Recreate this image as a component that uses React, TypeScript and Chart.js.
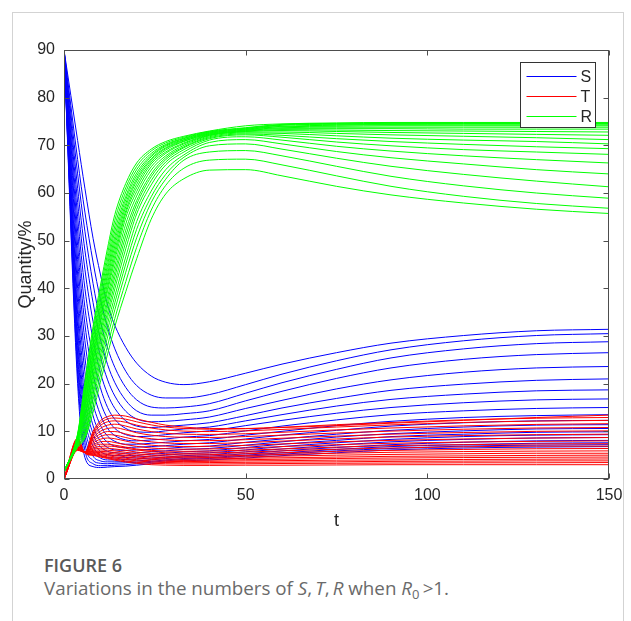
import React, { useEffect, useRef } from "react";
import { Chart, registerables } from "chart.js";

Chart.register(...registerables);

// Time grid shared by every curve
const T_GRID = [0, 3.75, 5.75, 8, 10, 12, 14, 17, 20, 24, 28, 33, 40, 50, 60, 75, 90, 110, 130, 150];

const X_TICKS = [0, 50, 100, 150];
const Y_TICKS = [0, 10, 20, 30, 40, 50, 60, 70, 80, 90];
const LEGEND_LABELS = ["S", "T", "R"];
const X_TITLE = "t";
const Y_TITLE = "Quantity/%";

// S curves (blue)
const S_CURVES = [
  [90, 20, 4.5, 2.6, 2.4, 2.5, 2.6, 2.7, 2.9, 3.2, 3.5, 3.8, 4.0, 4.4, 4.9, 5.5, 6.1, 6.5, 6.7, 6.8],
  [90, 22, 6.0, 3.2, 2.8, 2.8, 2.9, 3.0, 3.2, 3.5, 3.8, 4.1, 4.3, 4.8, 5.2, 5.9, 6.4, 6.9, 7.1, 7.2],
  [90, 24, 7.6, 3.9, 3.3, 3.2, 3.3, 3.4, 3.5, 3.7, 4.0, 4.3, 4.5, 5.0, 5.5, 6.2, 6.8, 7.2, 7.5, 7.6],
  [90, 26, 9.3, 4.8, 3.8, 3.6, 3.6, 3.7, 3.8, 4.0, 4.3, 4.6, 4.8, 5.3, 5.9, 6.6, 7.2, 7.7, 8.0, 8.1],
  [90, 28, 11, 5.8, 4.4, 4.0, 4.0, 4.1, 4.2, 4.4, 4.6, 4.9, 5.1, 5.7, 6.3, 7.1, 7.8, 8.3, 8.6, 8.7],
  [90, 30, 12.8, 6.9, 5.0, 4.5, 4.4, 4.5, 4.6, 4.8, 5.0, 5.3, 5.5, 6.1, 6.8, 7.6, 8.3, 8.9, 9.2, 9.3],
  [90, 32, 14.8, 8.1, 5.8, 5.1, 4.9, 4.9, 5.0, 5.2, 5.4, 5.7, 5.9, 6.6, 7.3, 8.1, 8.9, 9.4, 9.8, 9.9],
  [90, 34.5, 17, 9.5, 6.8, 5.8, 5.5, 5.4, 5.5, 5.7, 5.9, 6.2, 6.4, 7.1, 7.8, 8.8, 9.5, 10.1, 10.5, 10.6],
  [90, 37, 19.5, 11.2, 8.0, 6.6, 6.1, 6.0, 6.1, 6.2, 6.4, 6.7, 6.9, 7.7, 8.4, 9.4, 10.2, 10.9, 11.3, 11.4],
  [90, 40, 22.5, 13.3, 9.5, 7.7, 6.9, 6.6, 6.7, 6.8, 7.0, 7.3, 7.6, 8.4, 9.2, 10.2, 11.1, 11.8, 12.2, 12.3],
  [90, 43, 25.5, 15.8, 11.3, 9.0, 7.9, 7.3, 7.3, 7.5, 7.7, 8.0, 8.3, 9.2, 10.0, 11.2, 12.1, 12.9, 13.3, 13.5],
  [90, 46, 29, 18.7, 13.5, 10.6, 9.1, 8.2, 8.0, 8.2, 8.4, 8.8, 9.1, 10.1, 11.1, 12.4, 13.5, 14.3, 14.8, 15.0],
  [90, 49, 32.5, 22, 16.2, 12.6, 10.6, 9.3, 8.9, 9.0, 9.3, 9.7, 10.1, 11.2, 12.3, 13.8, 15.0, 16.0, 16.6, 16.8],
  [90, 52, 36, 25.5, 19.2, 15.0, 12.5, 10.6, 9.9, 9.8, 10.1, 10.5, 10.9, 12.2, 13.5, 15.3, 16.7, 17.8, 18.5, 18.7],
  [90, 55, 40, 29.2, 22.4, 17.8, 14.8, 12.2, 11.1, 10.8, 11.0, 11.3, 11.8, 13.3, 14.9, 16.9, 18.6, 19.9, 20.7, 21.0],
  [90, 58, 44, 33, 25.8, 20.8, 17.4, 14.2, 12.6, 12.0, 12.1, 12.4, 13.0, 14.8, 16.5, 18.9, 20.8, 22.4, 23.3, 23.6],
  [90, 61, 48, 37, 29.4, 24, 20.2, 16.5, 14.3, 13.4, 13.4, 13.7, 14.3, 16.4, 18.4, 21.1, 23.3, 25.1, 26.1, 26.5],
  [90, 64, 52, 41, 33.2, 27.5, 23.4, 19.2, 16.6, 15.1, 14.9, 15.1, 15.8, 18.0, 20.2, 23.0, 25.4, 27.3, 28.4, 28.8],
  [90, 67, 56, 45.5, 37.8, 31.8, 27.3, 22.6, 19.6, 17.6, 17.0, 17.0, 17.7, 19.8, 22.0, 24.8, 27.1, 29.0, 30.1, 30.5],
  [90, 71, 61, 50.5, 43, 36.5, 32.2, 27.6, 24.3, 21.6, 20.3, 19.8, 20.4, 22.2, 24.1, 26.5, 28.5, 30.1, 31.1, 31.4],
];

// T curves (red)
const T_CURVES = [
  [0, 8.6, 5.4, 4.95, 4.6, 4.3, 3.95, 3.55, 3.25, 3.0, 2.9, 2.85, 2.85, 2.9, 2.9, 2.95, 3.0, 3.0, 3.0, 3.0],
  [0, 8.4, 5.45, 5.05, 4.75, 4.45, 4.15, 3.8, 3.5, 3.3, 3.2, 3.15, 3.15, 3.2, 3.25, 3.3, 3.35, 3.4, 3.4, 3.45],
  [0, 8.2, 5.5, 5.2, 4.9, 4.65, 4.4, 4.1, 3.8, 3.55, 3.45, 3.4, 3.45, 3.5, 3.55, 3.6, 3.7, 3.75, 3.8, 3.8],
  [0, 8.0, 5.5, 5.3, 5.1, 4.9, 4.65, 4.35, 4.05, 3.8, 3.7, 3.65, 3.7, 3.8, 3.85, 3.95, 4.0, 4.1, 4.15, 4.2],
  [0, 7.8, 5.55, 5.45, 5.3, 5.15, 4.95, 4.65, 4.35, 4.1, 3.95, 3.9, 3.95, 4.05, 4.15, 4.3, 4.4, 4.5, 4.55, 4.6],
  [0, 7.6, 5.6, 5.6, 5.55, 5.4, 5.25, 4.95, 4.65, 4.35, 4.2, 4.15, 4.2, 4.35, 4.45, 4.6, 4.75, 4.85, 4.95, 5.0],
  [0, 7.4, 5.6, 5.8, 5.8, 5.7, 5.55, 5.25, 4.95, 4.65, 4.5, 4.45, 4.5, 4.65, 4.8, 5.0, 5.15, 5.3, 5.4, 5.4],
  [0, 7.2, 5.6, 6.0, 6.1, 6.05, 5.9, 5.6, 5.3, 5.0, 4.8, 4.75, 4.8, 4.95, 5.15, 5.4, 5.6, 5.75, 5.85, 5.9],
  [0, 7.0, 5.6, 6.25, 6.45, 6.45, 6.3, 6.0, 5.65, 5.35, 5.15, 5.05, 5.1, 5.3, 5.5, 5.8, 6.0, 6.2, 6.35, 6.4],
  [0, 6.9, 5.6, 6.5, 6.85, 6.9, 6.8, 6.45, 6.1, 5.75, 5.5, 5.4, 5.45, 5.65, 5.9, 6.25, 6.5, 6.75, 6.9, 6.9],
  [0, 6.8, 5.6, 6.8, 7.3, 7.3, 7.1, 6.7, 6.3, 6.0, 5.85, 5.8, 5.85, 6.05, 6.3, 6.7, 7.0, 7.2, 7.35, 7.4],
  [0, 6.7, 5.6, 7.1, 7.8, 7.9, 7.65, 7.2, 6.85, 6.5, 6.35, 6.25, 6.3, 6.5, 6.8, 7.2, 7.5, 7.75, 7.9, 8.0],
  [0, 6.6, 5.6, 7.5, 8.35, 8.6, 8.45, 7.95, 7.5, 7.1, 6.9, 6.8, 6.85, 7.05, 7.35, 7.8, 8.1, 8.4, 8.6, 8.7],
  [0, 6.5, 5.6, 7.9, 8.9, 9.3, 9.2, 8.7, 8.2, 7.8, 7.55, 7.45, 7.45, 7.65, 7.95, 8.4, 8.8, 9.1, 9.3, 9.4],
  [0, 6.4, 5.6, 8.25, 9.45, 9.95, 9.95, 9.45, 8.9, 8.45, 8.2, 8.05, 8.05, 8.25, 8.55, 9.0, 9.4, 9.75, 10.0, 10.1],
  [0, 6.3, 5.6, 8.6, 10.0, 10.6, 10.75, 10.3, 9.7, 9.2, 8.9, 8.75, 8.7, 8.9, 9.2, 9.65, 10.05, 10.45, 10.7, 10.8],
  [0, 6.2, 5.6, 9.0, 10.6, 11.3, 11.5, 11.1, 10.5, 9.95, 9.6, 9.4, 9.35, 9.5, 9.8, 10.3, 10.7, 11.15, 11.45, 11.6],
  [0, 6.15, 5.6, 9.3, 11.2, 12.0, 12.2, 11.9, 11.3, 10.7, 10.3, 10.05, 9.95, 10.1, 10.4, 10.9, 11.35, 11.85, 12.15, 12.3],
  [0, 6.1, 5.6, 9.6, 11.7, 12.6, 12.8, 12.55, 12.0, 11.35, 10.9, 10.6, 10.45, 10.55, 10.85, 11.4, 11.85, 12.4, 12.75, 12.9],
  [0, 6.0, 5.6, 10.0, 12.2, 13.1, 13.4, 13.2, 12.6, 11.9, 11.3, 10.9, 10.6, 10.6, 10.8, 11.2, 11.7, 12.3, 12.9, 13.4],
];

// R curves (green)
const R_CURVES = [
  [1.5, 9.5, 20.5, 32, 40.5, 48.5, 55.5, 62, 66.3, 69.2, 70.8, 71.9, 73.0, 74.1, 74.5, 74.7, 74.8, 74.8, 74.8, 74.8],
  [1.5, 9.35, 19.7, 31.0, 39.4, 47.3, 54.3, 61.1, 65.6, 68.8, 70.5, 71.7, 72.9, 73.7, 74.4, 74.6, 74.7, 74.7, 74.7, 74.7],
  [1.5, 9.2, 19.0, 30.0, 38.4, 46.1, 53.1, 60.2, 64.9, 68.3, 70.2, 71.5, 72.8, 73.6, 74.3, 74.5, 74.6, 74.6, 74.6, 74.6],
  [1.5, 9.05, 18.2, 29.0, 37.4, 45.0, 52.0, 59.3, 64.2, 67.9, 70.0, 71.4, 72.7, 73.5, 74.2, 74.4, 74.4, 74.5, 74.5, 74.5],
  [1.5, 8.9, 17.5, 28.2, 36.5, 44.0, 50.9, 58.6, 63.6, 67.6, 69.8, 71.2, 72.6, 73.4, 74.0, 74.2, 74.3, 74.3, 74.3, 74.3],
  [1.5, 8.75, 16.9, 27.3, 35.7, 43.0, 49.9, 57.8, 63.0, 67.2, 69.5, 71.1, 72.5, 73.3, 73.9, 74.0, 74.1, 74.1, 74.1, 74.1],
  [1.5, 8.6, 16.3, 26.5, 34.8, 42.1, 48.9, 57.1, 62.5, 66.9, 69.3, 70.9, 72.4, 73.2, 73.7, 73.8, 73.8, 73.8, 73.8, 73.8],
  [1.5, 8.45, 15.7, 25.7, 34.0, 41.1, 47.9, 56.3, 61.8, 66.5, 69.0, 70.8, 72.3, 73.1, 73.5, 73.5, 73.5, 73.4, 73.4, 73.4],
  [1.5, 8.3, 15.1, 25.0, 33.2, 40.2, 46.9, 55.7, 61.1, 66.1, 68.6, 70.5, 72.2, 73.0, 73.3, 73.2, 73.1, 73.0, 72.9, 72.8],
  [1.5, 8.15, 14.5, 24.3, 32.5, 39.4, 45.9, 54.8, 60.3, 65.5, 68.3, 70.3, 72.1, 72.9, 73.1, 72.9, 72.7, 72.5, 72.3, 72.1],
  [1.5, 8.0, 13.8, 23.4, 31.4, 38.2, 44.7, 53.5, 59.4, 64.8, 67.8, 70.0, 72.0, 72.8, 72.8, 72.5, 72.2, 71.9, 71.6, 71.2],
  [1.5, 7.85, 13.2, 22.5, 30.4, 37.2, 43.5, 52.2, 58.4, 64.0, 67.4, 69.7, 71.8, 72.6, 72.5, 72.0, 71.5, 71.1, 70.8, 70.3],
  [1.5, 7.7, 12.5, 21.7, 29.4, 36.2, 42.4, 51.0, 57.6, 63.4, 67.0, 69.5, 71.6, 72.4, 72.1, 71.4, 70.8, 70.2, 69.7, 69.3],
  [1.5, 7.55, 11.8, 20.8, 28.2, 35.0, 41.1, 49.7, 56.6, 62.6, 66.5, 69.1, 71.4, 72.2, 71.7, 70.7, 69.9, 69.1, 68.6, 68.1],
  [1.5, 7.4, 11.1, 19.8, 27.0, 33.9, 39.9, 48.3, 55.6, 61.7, 65.9, 68.6, 71.1, 71.8, 71.1, 69.8, 68.8, 67.8, 67.0, 66.3],
  [1.5, 7.25, 10.3, 18.7, 25.8, 32.6, 38.4, 46.6, 54.0, 60.4, 64.9, 68.0, 70.6, 71.2, 70.3, 68.7, 67.4, 66.1, 64.9, 64.0],
  [1.5, 7.1, 9.6, 17.7, 24.6, 31.3, 37.0, 45.1, 52.4, 59.2, 63.9, 67.5, 69.9, 70.3, 69.2, 67.3, 65.6, 63.9, 62.5, 61.3],
  [1.5, 6.95, 9.2, 16.6, 23.4, 29.8, 35.5, 43.4, 50.6, 58.0, 62.9, 66.9, 68.6, 68.9, 67.8, 65.6, 63.5, 61.5, 60.0, 58.9],
  [1.5, 6.8, 8.9, 15.3, 21.8, 28.0, 33.7, 41.4, 48.6, 56.4, 61.6, 65.2, 66.9, 67.1, 65.9, 63.6, 61.4, 59.3, 57.8, 56.8],
  [1.5, 6.65, 8.5, 14.0, 20.3, 26.2, 32.0, 39.3, 46.2, 54.5, 59.8, 63.0, 64.8, 64.9, 63.6, 61.4, 59.6, 57.9, 56.6, 55.7],
];

const BLUE = "#0000ff";
const RED = "#ff0000";
const GREEN = "#00ff00";
const AXIS_COLOR = "#4d4d4d";
const TEXT_COLOR = "#262626";
const AXIS_FONT = "'Liberation Sans', Arial, Helvetica, sans-serif";

const framePlugin = {
  id: "matlabFrame",
  afterDatasetsDraw(chart: any) {
    const { ctx, chartArea: a, scales } = chart;
    const xs = scales.x;
    const ys = scales.y;
    const L = Math.round(a.left) + 0.5;
    const R = Math.round(a.right) - 0.5;
    const T = Math.round(a.top) + 0.5;
    const B = Math.round(a.bottom) - 0.5;
    ctx.save();
    ctx.strokeStyle = AXIS_COLOR;
    ctx.lineWidth = 1;
    ctx.strokeRect(L, T, R - L, B - T);
    const tl = 5;
    ctx.beginPath();
    for (const v of X_TICKS) {
      const px = Math.round(xs.getPixelForValue(v)) + 0.5;
      ctx.moveTo(px, B);
      ctx.lineTo(px, B - tl);
      ctx.moveTo(px, T);
      ctx.lineTo(px, T + tl);
    }
    for (const v of Y_TICKS) {
      const py = Math.round(ys.getPixelForValue(v)) + 0.5;
      ctx.moveTo(L, py);
      ctx.lineTo(L + tl, py);
      ctx.moveTo(R, py);
      ctx.lineTo(R - tl, py);
    }
    ctx.stroke();

    // legend box
    const bw = 75;
    const bh = 65;
    const bx = Math.round(a.right - 14 - bw) + 0.5;
    const by = Math.round(a.top + 12) + 0.5;
    ctx.fillStyle = "#ffffff";
    ctx.fillRect(bx, by, bw, bh);
    ctx.strokeStyle = "#333333";
    ctx.strokeRect(bx, by, bw, bh);
    const colors = [BLUE, RED, GREEN];
    ctx.font = "16px " + AXIS_FONT;
    ctx.textBaseline = "middle";
    ctx.textAlign = "left";
    LEGEND_LABELS.forEach((lab, i) => {
      const yy = Math.round(by + 13 + i * 20) + 0.5;
      ctx.strokeStyle = colors[i];
      ctx.beginPath();
      ctx.moveTo(bx + 6, yy);
      ctx.lineTo(bx + 56, yy);
      ctx.stroke();
      ctx.fillStyle = TEXT_COLOR;
      ctx.fillText(lab, bx + 60, yy + 1);
    });
    ctx.restore();
  },
};

export default function App() {
  const ref = useRef<HTMLCanvasElement | null>(null);

  useEffect(() => {
    if (!ref.current) return;
    const toPoints = (vals: number[]) => T_GRID.map((t, i) => ({ x: t, y: vals[i] }));
    const mk = (vals: number[], color: string, label: string) => ({
      label,
      data: toPoints(vals),
      borderColor: color,
      backgroundColor: color,
      borderWidth: 1,
      pointRadius: 0,
      fill: false,
      cubicInterpolationMode: "monotone" as const,
    });
    const datasets = [
      ...R_CURVES.map((v) => mk(v, GREEN, "R")),
      ...T_CURVES.map((v) => mk(v, RED, "T")),
      ...S_CURVES.map((v) => mk(v, BLUE, "S")),
    ];
    const tickFont = { family: AXIS_FONT, size: 16 };
    const titleFont = { family: AXIS_FONT, size: 18 };
    const chart = new Chart(ref.current, {
      type: "line",
      data: { datasets },
      options: {
        animation: false,
        responsive: false,
        maintainAspectRatio: false,
        events: [],
        layout: { padding: { top: 50, right: 22, left: 0, bottom: 0 } },
        plugins: { legend: { display: false }, tooltip: { enabled: false } },
        scales: {
          x: {
            type: "linear",
            min: 0,
            max: 150,
            afterBuildTicks: (s: any) => {
              s.ticks = X_TICKS.map((v) => ({ value: v }));
            },
            afterFit: (s: any) => {
              s.height = 61;
            },
            grid: { display: false, drawTicks: false },
            border: { display: false },
            ticks: { font: tickFont, color: TEXT_COLOR, padding: 7, maxRotation: 0, autoSkip: false },
            title: {
              display: true,
              text: X_TITLE,
              font: titleFont,
              color: TEXT_COLOR,
              padding: { top: 0, bottom: 8 },
            },
          },
          y: {
            type: "linear",
            min: 0,
            max: 90,
            afterBuildTicks: (s: any) => {
              s.ticks = Y_TICKS.map((v) => ({ value: v }));
            },
            afterFit: (s: any) => {
              s.width = 64;
            },
            grid: { display: false, drawTicks: false },
            border: { display: false },
            ticks: { font: tickFont, color: TEXT_COLOR, padding: 9, autoSkip: false },
            title: {
              display: true,
              text: Y_TITLE,
              font: titleFont,
              color: TEXT_COLOR,
              padding: { top: 15, bottom: 0 },
            },
          },
        },
      } as any,
      plugins: [framePlugin],
    });
    return () => chart.destroy();
  }, []);

  return (
    <div
      style={{
        position: "fixed",
        left: 0,
        top: 0,
        width: 631,
        height: 621,
        overflow: "hidden",
        background: "#ffffff",
      }}
    >
      <div
        style={{
          position: "absolute",
          left: 12,
          top: 12,
          width: 612,
          height: 700,
          border: "1px solid #d3d3d3",
          boxSizing: "border-box",
        }}
      />
      <canvas
        ref={ref}
        width={631}
        height={540}
        style={{ position: "absolute", left: 0, top: 0, width: 631, height: 540 }}
      />
      <div
        style={{
          position: "absolute",
          left: 44,
          top: 554,
          fontFamily: "'Open Sans', 'Noto Sans', sans-serif",
          fontWeight: 600,
          fontSize: 18,
          lineHeight: "22px",
          color: "#595959",
          whiteSpace: "nowrap",
        }}
      >
        FIGURE 6
      </div>
      <div
        style={{
          position: "absolute",
          left: 44,
          top: 576,
          fontFamily: "'Open Sans', 'Noto Sans', sans-serif",
          fontWeight: 400,
          fontSize: 18.8,
          lineHeight: "24px",
          color: "#6a6a6a",
          whiteSpace: "nowrap",
        }}
      >
        Variations in the numbers of <i>S</i>,{"\u2009"}
        <i>T</i>,{"\u2009"}
        <i>R</i> when <i>R</i>
        <span style={{ fontSize: 13, verticalAlign: "-4px" }}>0</span>
        {"\u2009"}&gt;1.
      </div>
    </div>
  );
}
